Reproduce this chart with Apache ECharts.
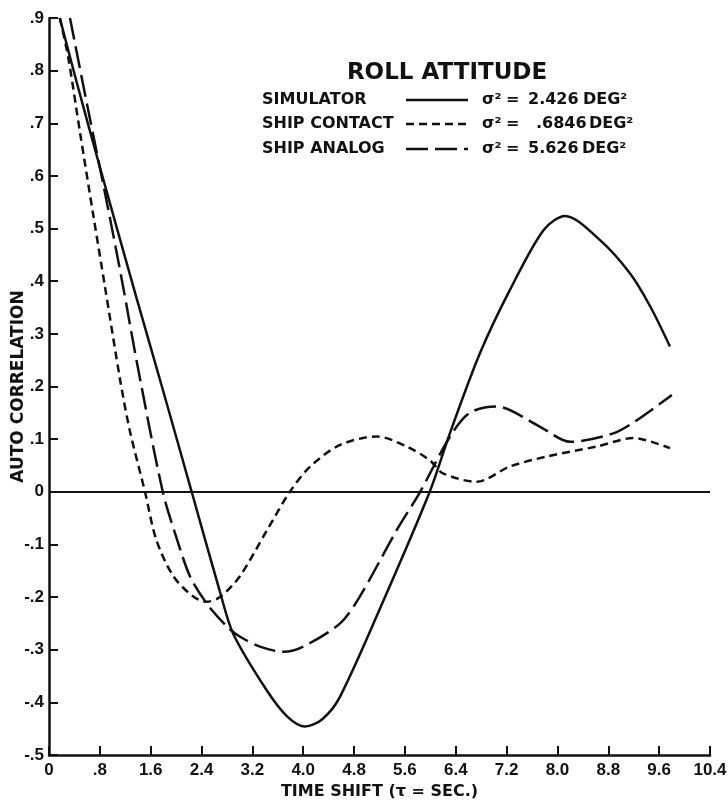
<!DOCTYPE html>
<html>
<head>
<meta charset="utf-8">
<script src="https://cdn.jsdelivr.net/npm/echarts@6/dist/echarts.min.js"></script>
<style>
html,body{margin:0;padding:0;background:#fff;}
#chart{width:728px;height:803px;}
</style>
</head>
<body>
<div id="chart"></div>
<script>
// ---- data ----
const title = 'ROLL ATTITUDE';
const seriesNames = ['SIMULATOR', 'SHIP CONTACT', 'SHIP ANALOG'];
const varianceValues = ['2.426', '.6846', '5.626'];
const varianceUnit = 'DEG²';

const simX = [0.17,0.44,0.80,1.38,1.80,2.245,2.69,2.90,3.42,3.75,4.03,4.30,4.58,5.29,5.99,6.31,6.78,7.25,7.78,8.12,8.67,9.14,9.46,9.77];
const simY = [0.90,0.776,0.617,0.367,0.19,0.0,-0.19,-0.27,-0.376,-0.427,-0.446,-0.432,-0.389,-0.199,0.0,0.112,0.263,0.383,0.497,0.524,0.478,0.415,0.352,0.276];

const contactX = [0.17,0.30,0.49,0.70,0.88,1.12,1.27,1.51,1.69,1.96,2.27,2.48,2.69,3.00,3.43,3.79,4.11,4.58,5.16,5.63,5.99,6.20,6.73,7.25,7.83,8.62,9.19,9.77];
const contactY = [0.90,0.827,0.681,0.523,0.39,0.212,0.117,0.0,-0.092,-0.161,-0.199,-0.209,-0.200,-0.161,-0.073,0.0,0.048,0.089,0.105,0.086,0.060,0.035,0.019,0.048,0.067,0.086,0.102,0.083];

const analogX = [0.33,0.60,0.91,1.15,1.40,1.79,2.00,2.22,2.48,2.80,3.00,3.32,3.69,4.00,4.58,4.89,5.47,5.84,6.31,6.62,7.04,7.72,8.20,8.88,9.25,9.80];
const analogY = [0.90,0.735,0.55,0.40,0.235,0.0,-0.085,-0.161,-0.212,-0.256,-0.275,-0.294,-0.304,-0.294,-0.25,-0.199,-0.073,0.0,0.105,0.15,0.162,0.124,0.095,0.111,0.136,0.184];

const xTickLabels = ['0','.8','1.6','2.4','3.2','4.0','4.8','5.6','6.4','7.2','8.0','8.8','9.6','10.4'];
const yTickLabels = ['-.5','-.4','-.3','-.2','-.1','0','.1','.2','.3','.4','.5','.6','.7','.8','.9'];
const xName = 'TIME SHIFT (τ = SEC.)';
const yName = 'AUTO CORRELATION';

// ---- chart ----
const zip = (xs, ys) => xs.map((x, i) => [x, ys[i]]);
const INK = '#111';
const FONT = '"Liberation Sans", Arial, sans-serif';
const WFONT = '"DejaVu Sans", "Liberation Sans", sans-serif';
const dashes = [null, [8, 5], [22, 7]];

const chart = echarts.init(document.getElementById('chart'), null, {renderer: 'canvas'});

const legendTop = [100, 124, 149];
const valueX = [528, 536, 528];
const unitX = [583, 589, 582];
const graphics = [
  {type: 'text', x: 447, y: 73, style: {text: title, font: 'bold 23px ' + WFONT, fill: INK, align: 'center', verticalAlign: 'middle'}}
];
seriesNames.forEach((n, i) => {
  const y = legendTop[i];
  const t = (x, text) => graphics.push({type: 'text', x, y, style: {text, font: 'bold 16px ' + WFONT, fill: INK, align: 'left', verticalAlign: 'middle'}});
  t(262, n);
  graphics.push({type: 'line', shape: {x1: 406, y1: y, x2: 468, y2: y},
    style: {stroke: INK, lineWidth: 2.5, lineDash: dashes[i] || null}});
  t(482, 'σ²');
  t(506, '=');
  t(valueX[i], varianceValues[i]);
  t(unitX[i], varianceUnit);
});

const mkSeries = (name, data, dash) => ({
  name, type: 'line', data, symbol: 'none', smooth: 0.3, clip: true,
  lineStyle: {color: INK, width: 2.5, type: dash || 'solid'}
});

const series = [
  mkSeries(seriesNames[0], zip(simX, simY), null),
  mkSeries(seriesNames[1], zip(contactX, contactY), dashes[1]),
  mkSeries(seriesNames[2], zip(analogX, analogY), dashes[2])
];
series[0].markLine = {
  silent: true, symbol: 'none', label: {show: false},
  lineStyle: {color: INK, width: 2, type: 'solid'},
  data: [{yAxis: 0}]
};

// ticks point into the plot area (negative length flips them inward)
const tickStyle = {show: true, inside: false, length: -9, lineStyle: {color: INK, width: 2}};

chart.setOption({
  animation: false,
  backgroundColor: '#fff',
  grid: {left: 49, right: 18, top: 18, bottom: 48, containLabel: false, outerBoundsMode: 'none'},
  xAxis: {
    type: 'value', min: 0, max: 10.4, interval: 0.8,
    name: xName, nameLocation: 'middle', nameGap: 29, nameMoveOverlap: false,
    nameTextStyle: {color: INK, fontFamily: WFONT, fontWeight: 'bold', fontSize: 16},
    axisLine: {show: true, onZero: false, lineStyle: {color: INK, width: 2.5}},
    axisTick: tickStyle,
    splitLine: {show: false},
    axisLabel: {
      color: INK, fontFamily: FONT, fontWeight: 'bold', fontSize: 17, margin: 7,
      formatter: v => xTickLabels[Math.round(v / 0.8)] || ''
    }
  },
  yAxis: {
    type: 'value', min: -0.5, max: 0.9, interval: 0.1,
    name: yName, nameLocation: 'middle', nameGap: 22, nameMoveOverlap: false,
    nameTextStyle: {color: INK, fontFamily: WFONT, fontWeight: 'bold', fontSize: 17},
    axisLine: {show: true, onZero: false, lineStyle: {color: INK, width: 2.5}},
    axisTick: tickStyle,
    splitLine: {show: false},
    axisLabel: {
      color: INK, fontFamily: FONT, fontWeight: 'bold', fontSize: 17, margin: 5,
      formatter: v => yTickLabels[Math.round((v + 0.5) / 0.1)] || ''
    }
  },
  graphic: graphics,
  series
});
</script>
</body>
</html>
